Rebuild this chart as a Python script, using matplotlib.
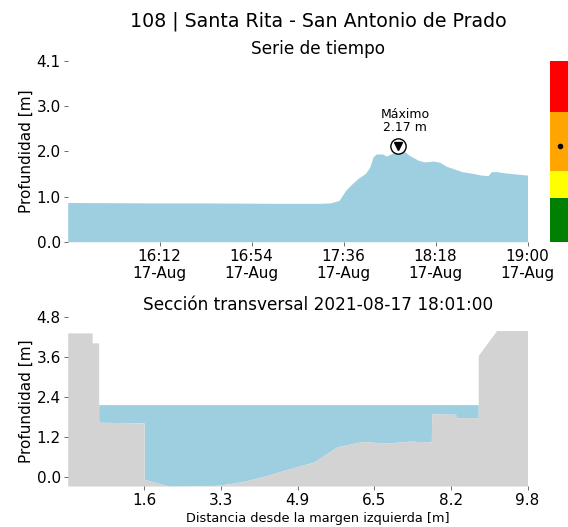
import matplotlib
matplotlib.use("Agg")
import matplotlib.pyplot as plt
import matplotlib.dates as mdates
import numpy as np
import pandas as pd

# ---------------- data ----------------
station_title = "108 | Santa Rita - San Antonio de Prado"
series_start = "2021-08-17 15:30:00"
series_end = "2021-08-17 19:00:00"
minutes = [0, 20, 40, 60, 80, 100, 115, 120, 124, 127, 130, 133, 136, 138, 139.5,
           141, 144, 145.5, 148, 150, 153, 156, 160, 163, 167, 170, 173, 176, 180,
           185, 189, 192, 193.5, 196, 200, 206, 210]
depth = [0.89, 0.885, 0.88, 0.88, 0.875, 0.87, 0.87, 0.88, 0.94, 1.17, 1.32, 1.45,
         1.55, 1.70, 1.93, 1.99, 1.99, 1.94, 2.00, 2.04, 2.08, 1.96, 1.85, 1.81,
         1.83, 1.80, 1.71, 1.66, 1.59, 1.55, 1.51, 1.50, 1.59, 1.59, 1.56, 1.53, 1.51]
max_time = "2021-08-17 18:01:00"
max_value = 2.17
ts_ymax = 4.1
ts_ytick_labels = ["0.0", "1.0", "2.0", "3.0", "4.1"]

alert_levels = [0.0, 1.0, 1.61, 2.94, 4.1]
alert_colors = ["green", "yellow", "orange", "red"]

section_title = "Sección transversal 2021-08-17 18:01:00"
section_x = [0.0, 0.52, 0.52, 0.66, 0.66, 1.63, 1.63, 2.15, 3.19, 3.73, 4.23, 4.73,
             5.26, 5.74, 6.28, 6.79, 7.28, 7.75, 7.76, 8.27, 8.27, 8.75, 8.75, 9.14, 9.8]
section_y = [4.33, 4.33, 4.03, 4.03, 1.64, 1.62, -0.08, -0.28, -0.26, -0.15, 0.03,
             0.24, 0.45, 0.90, 1.06, 1.01, 1.07, 1.05, 1.89, 1.88, 1.78, 1.78, 3.65,
             4.40, 4.40]
water_level = 2.17
sec_ymin, sec_ymax = -0.28, 4.8
sec_xmax = 9.8

water_color = "#9ECFE0"
ground_color = "#D3D3D3"

# ---------------- figure ----------------
W, H = 568, 527
fig = plt.figure(figsize=(W / 100, H / 100), dpi=100)

def px_axes(l, t, r, b):
    return fig.add_axes([l / W, 1 - b / H, (r - l) / W, (b - t) / H])

AX_L, AX_R = 67.7, 527.5
title_x = (318 - AX_L) / (AX_R - AX_L)

fig.text(318 / W, 1 - 21 / H, station_title, ha="center", va="center", fontsize=13.7)

# --- time series ---
ax1 = px_axes(AX_L, 61, AX_R, 241.7)
t0 = pd.Timestamp(series_start)
times = [t0 + pd.Timedelta(minutes=m) for m in minutes]
ax1.fill_between(times, 0, depth, color=water_color, linewidth=0)
ax1.set_xlim(pd.Timestamp(series_start), pd.Timestamp(series_end))
ax1.set_ylim(0, ts_ymax)
ax1.set_yticks(np.linspace(0, ts_ymax, 5))
ax1.set_yticklabels(ts_ytick_labels)
xt = pd.date_range(series_start, series_end, periods=6)[1:]
ax1.set_xticks(xt)
ax1.xaxis.set_major_formatter(mdates.DateFormatter("%H:%M\n%d-%b"))
for s in ax1.spines.values():
    s.set_visible(False)
ax1.tick_params(axis="both", labelsize=11, length=3, width=0.6, colors="#555555",
                labelcolor="black", pad=2)
ax1.set_ylabel("Profundidad [m]", fontsize=11, labelpad=2)
ax1.set_title("Serie de tiempo", fontsize=12.2, pad=5, x=title_x)
mt = pd.Timestamp(max_time)
ax1.plot([mt], [max_value], "o", ms=11, mfc="white", mec="black", mew=1.0)
ax1.plot([mt], [max_value], "v", ms=5.5, color="black")
ax1.annotate(f"Máximo\n{max_value:.2f} m", (mt, max_value), xytext=(5, 8.5),
             textcoords="offset points", ha="center", va="bottom", fontsize=9,
             linespacing=1.0)

# --- alert bar ---
axc = px_axes(550, 61, 568, 241.7)
for lo, hi, c in zip(alert_levels[:-1], alert_levels[1:], alert_colors):
    axc.bar(0.5, hi - lo, bottom=lo, width=1.0, color=c, linewidth=0)
axc.plot([0.55], [max_value], "o", ms=3, color="black")
axc.set_xlim(0, 1)
axc.set_ylim(0, ts_ymax)
axc.axis("off")

# --- cross section ---
ax2 = px_axes(AX_L, 317.3, AX_R, 486)
sx = np.array(section_x)
sy = np.array(section_y)
ax2.fill_between(sx, sy, water_level, where=sy < water_level, interpolate=True,
                 color=water_color, linewidth=0)
ax2.fill_between(sx, sec_ymin, sy, color=ground_color, linewidth=0)
ax2.set_xlim(0, sec_xmax)
ax2.set_ylim(sec_ymin, sec_ymax)
ax2.set_yticks(np.linspace(0, sec_ymax, 5))
ax2.set_yticklabels([f"{v:.1f}" for v in np.linspace(0, sec_ymax, 5)])
xtk = np.linspace(0, sec_xmax, 7)[1:]
ax2.set_xticks(xtk)
ax2.set_xticklabels([f"{v:.1f}" for v in xtk])
for s in ax2.spines.values():
    s.set_visible(False)
ax2.tick_params(axis="both", labelsize=11, length=3, width=0.6, colors="#555555",
                labelcolor="black", pad=2)
ax2.set_ylabel("Profundidad [m]", fontsize=11, labelpad=2)
ax2.set_xlabel("Distancia desde la margen izquierda [m]", fontsize=9.3, labelpad=3)
ax2.xaxis.set_label_coords(title_x, -0.155)
ax2.set_title(section_title, fontsize=12.2, pad=5, x=title_x)

fig.savefig("out.png", dpi=100)
